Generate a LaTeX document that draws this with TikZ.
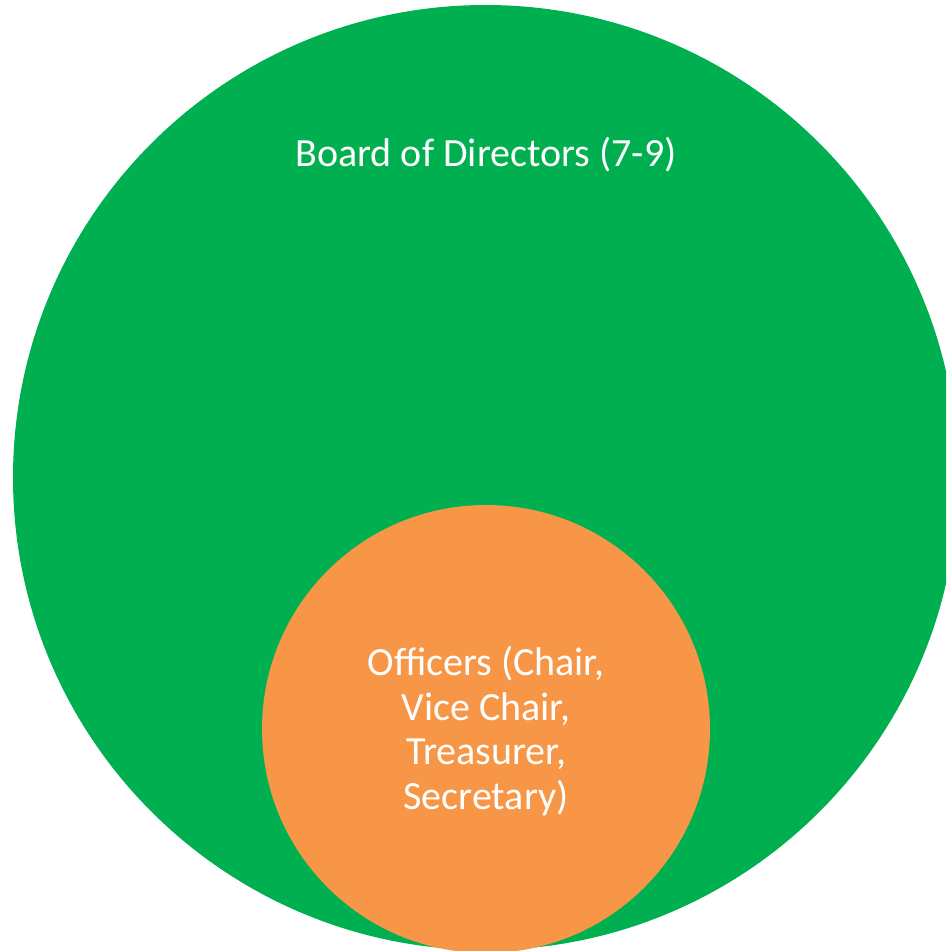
\documentclass[tikz,border=0pt]{standalone}
\usepackage{fontspec}
\setmainfont{Carlito}
\definecolor{boardgreen}{HTML}{00B050}
\definecolor{offorange}{HTML}{F79646}
\tikzset{
  lbl/.style={text=white, font=\fontsize{40}{44.5}\selectfont, align=center},
}
\begin{document}
\begin{tikzpicture}[x=1pt,y=1pt]
\useasboundingbox (0,0) rectangle (946,-951);
\begin{scope}
\clip (0,0) rectangle (946,-951);
\fill[boardgreen] (485.5,-477.5) circle (472.5);
\fill[offorange] (486,-729) circle (224);
\end{scope}
\node[lbl] (board) at (486,-155) {Board of Directors (7-9)};
\node[lbl] (officers) at (486,-731) {Officers (Chair,\\Vice Chair,\\Treasurer,\\Secretary)};
\end{tikzpicture}
\end{document}
